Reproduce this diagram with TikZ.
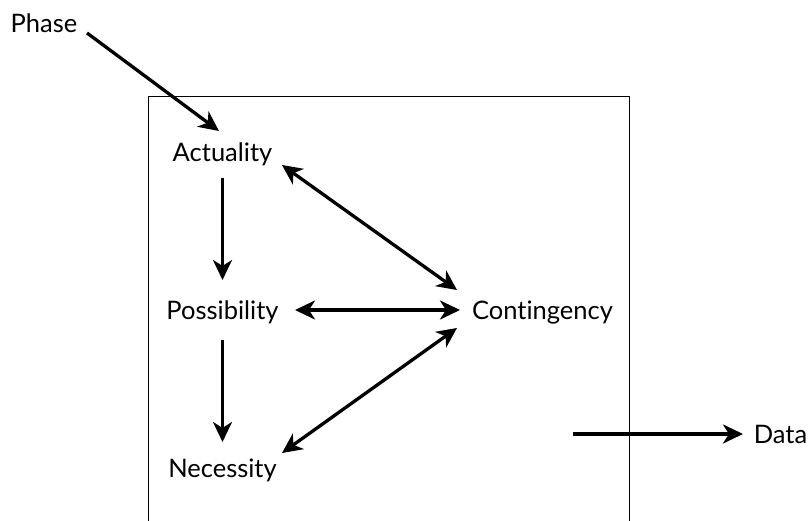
\documentclass[tikz,border=0pt]{standalone}
\usepackage{fontspec}
\setmainfont{Lato}[Ligatures=NoCommon]
\usetikzlibrary{arrows.meta,calc}
\tikzset{
 lbl/.style={inner sep=0pt, anchor=base, font=\fontsize{25.5}{30}\selectfont},
 link/.style={line width=3.3pt, -{Stealth[length=20pt,width=19pt,inset=6pt]}},
 bilink/.style={line width=3.3pt, {Stealth[length=20pt,width=19pt,inset=6pt]}-{Stealth[length=20pt,width=19pt,inset=6pt]}}
}
\begin{document}
\begin{tikzpicture}[x=1pt,y=-1pt]
\useasboundingbox (0,0) rectangle (809,521);

% frame, open at the bottom
\draw[line width=1pt] (148,521) -- (148,97) -- (629,97) -- (629,521);

\node[lbl] (phase) at (44,33) {Phase};
\node[lbl] (act) at (222.5,162) {Actuality};
\node[lbl] (pos) at (222.5,320) {Possibility};
\node[lbl] (nec) at (222.5,477) {Necessity};
\node[lbl] (cont) at (542.5,320) {Contingency};
\node[lbl] (data) at (780.5,443) {Data};

\coordinate (data_in) at (573,434);

\draw[link] ($(phase.base)+(43,0)$) -- ($(act.base)+(-3.5,-31)$);
\draw[link] ($(act.base)+(0,16)$) -- ($(pos.base)+(0,-40)$);
\draw[link] ($(pos.base)+(0,20)$) -- ($(nec.base)+(0,-35)$);

\draw[bilink] ($(act.base)+(59.5,3)$) -- ($(cont.base)+(-85.5,-30)$);
\draw[bilink] ($(pos.base)+(72.5,-10)$) -- ($(cont.base)+(-82.5,-10)$);
\draw[bilink] ($(nec.base)+(59.5,-24)$) -- ($(cont.base)+(-85.5,8)$);

\draw[link] (data_in) -- ($(data.base)+(-37.5,-9)$);
\end{tikzpicture}
\end{document}
